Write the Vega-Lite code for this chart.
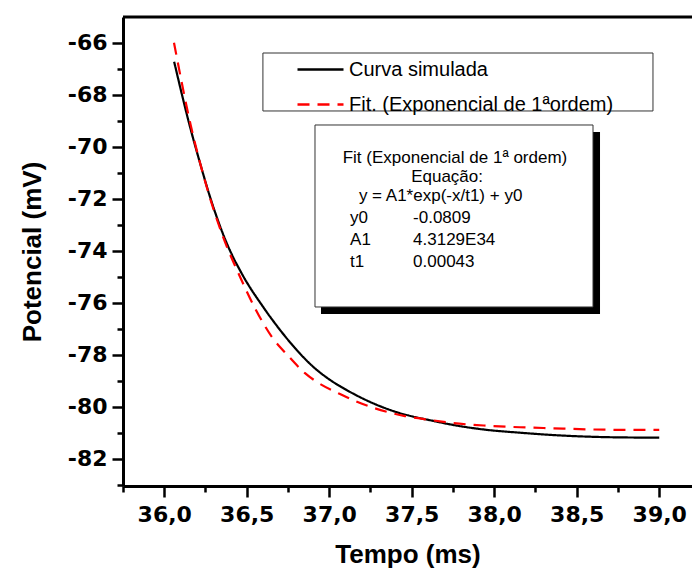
{
  "$schema": "https://vega.github.io/schema/vega-lite/v6.json",
  "width": 569,
  "height": 469,
  "autosize": "none",
  "padding": {"left": 123, "top": 17, "right": 0, "bottom": 88},
  "background": "white",
  "config": {
    "view": {"stroke": null},
    "font": "Liberation Sans",
    "axis": {
      "grid": false,
      "domainColor": "black",
      "domainWidth": 3,
      "tickColor": "black",
      "tickWidth": 2.5,
      "labelColor": "black",
      "labelFont": "DejaVu Sans",
      "labelFontWeight": "bold",
      "labelFontSize": 22,
      "titleFont": "Liberation Sans",
      "titleFontWeight": "bold",
      "titleFontSize": 26,
      "titleColor": "black",
      "labelOverlap": false,
      "labelFlush": false,
      "labelBound": false
    }
  },
  "resolve": {"axis": {"x": "independent", "y": "independent"}},
  "datasets": {
    "curvas": [
      {"serie": "Curva simulada", "tempo": 36.06, "potencial": -66.72},
      {"serie": "Curva simulada", "tempo": 36.156, "potencial": -69.22},
      {"serie": "Curva simulada", "tempo": 36.217, "potencial": -70.62},
      {"serie": "Curva simulada", "tempo": 36.277, "potencial": -71.91},
      {"serie": "Curva simulada", "tempo": 36.378, "potencial": -73.69},
      {"serie": "Curva simulada", "tempo": 36.477, "potencial": -74.95},
      {"serie": "Curva simulada", "tempo": 36.598, "potencial": -76.14},
      {"serie": "Curva simulada", "tempo": 36.702, "potencial": -77.04},
      {"serie": "Curva simulada", "tempo": 36.803, "potencial": -77.81},
      {"serie": "Curva simulada", "tempo": 36.902, "potencial": -78.45},
      {"serie": "Curva simulada", "tempo": 37.005, "potencial": -78.96},
      {"serie": "Curva simulada", "tempo": 37.106, "potencial": -79.35},
      {"serie": "Curva simulada", "tempo": 37.205, "potencial": -79.68},
      {"serie": "Curva simulada", "tempo": 37.308, "potencial": -79.97},
      {"serie": "Curva simulada", "tempo": 37.409, "potencial": -80.2},
      {"serie": "Curva simulada", "tempo": 37.508, "potencial": -80.37},
      {"serie": "Curva simulada", "tempo": 37.611, "potencial": -80.51},
      {"serie": "Curva simulada", "tempo": 37.75, "potencial": -80.69},
      {"serie": "Curva simulada", "tempo": 37.954, "potencial": -80.88},
      {"serie": "Curva simulada", "tempo": 38.156, "potencial": -80.99},
      {"serie": "Curva simulada", "tempo": 38.356, "potencial": -81.08},
      {"serie": "Curva simulada", "tempo": 38.56, "potencial": -81.14},
      {"serie": "Curva simulada", "tempo": 38.762, "potencial": -81.17},
      {"serie": "Curva simulada", "tempo": 39.0, "potencial": -81.18},
      {"serie": "Fit. (Exponencial de 1ªordem)", "tempo": 36.059, "potencial": -65.99},
      {"serie": "Fit. (Exponencial de 1ªordem)", "tempo": 36.16, "potencial": -69.15},
      {"serie": "Fit. (Exponencial de 1ªordem)", "tempo": 36.257, "potencial": -71.53},
      {"serie": "Fit. (Exponencial de 1ªordem)", "tempo": 36.356, "potencial": -73.45},
      {"serie": "Fit. (Exponencial de 1ªordem)", "tempo": 36.459, "potencial": -74.99},
      {"serie": "Fit. (Exponencial de 1ªordem)", "tempo": 36.55, "potencial": -76.2},
      {"serie": "Fit. (Exponencial de 1ªordem)", "tempo": 36.652, "potencial": -77.3},
      {"serie": "Fit. (Exponencial de 1ªordem)", "tempo": 36.752, "potencial": -78.04},
      {"serie": "Fit. (Exponencial de 1ªordem)", "tempo": 36.853, "potencial": -78.7},
      {"serie": "Fit. (Exponencial de 1ªordem)", "tempo": 36.954, "potencial": -79.15},
      {"serie": "Fit. (Exponencial de 1ªordem)", "tempo": 37.055, "potencial": -79.47},
      {"serie": "Fit. (Exponencial de 1ªordem)", "tempo": 37.156, "potencial": -79.77},
      {"serie": "Fit. (Exponencial de 1ªordem)", "tempo": 37.257, "potencial": -80.01},
      {"serie": "Fit. (Exponencial de 1ªordem)", "tempo": 37.358, "potencial": -80.2},
      {"serie": "Fit. (Exponencial de 1ªordem)", "tempo": 37.459, "potencial": -80.35},
      {"serie": "Fit. (Exponencial de 1ªordem)", "tempo": 37.611, "potencial": -80.5},
      {"serie": "Fit. (Exponencial de 1ªordem)", "tempo": 37.75, "potencial": -80.62},
      {"serie": "Fit. (Exponencial de 1ªordem)", "tempo": 37.954, "potencial": -80.72},
      {"serie": "Fit. (Exponencial de 1ªordem)", "tempo": 38.156, "potencial": -80.78},
      {"serie": "Fit. (Exponencial de 1ªordem)", "tempo": 38.356, "potencial": -80.82},
      {"serie": "Fit. (Exponencial de 1ªordem)", "tempo": 38.56, "potencial": -80.86},
      {"serie": "Fit. (Exponencial de 1ªordem)", "tempo": 38.762, "potencial": -80.88},
      {"serie": "Fit. (Exponencial de 1ªordem)", "tempo": 39.0, "potencial": -80.88}
    ],
    "caixas": [
      {"caixa": "sombra", "tempo": 36.95, "tempo2": 38.641, "potencial": -69.423, "potencial2": -76.423},
      {"caixa": "quadro", "tempo": 36.9136, "tempo2": 38.5985, "potencial": -69.154, "potencial2": -76.154},
      {"caixa": "legenda", "tempo": 36.598, "tempo2": 38.962, "potencial": -66.385, "potencial2": -68.615}
    ],
    "centrados": [
      {"texto": "Fit (Exponencial de 1ª ordem)", "tempo": 37.762, "potencial": -70.42},
      {"texto": "Equação:", "tempo": 37.714, "potencial": -71.15},
      {"texto": "y = A1*exp(-x/t1) + y0", "tempo": 37.675, "potencial": -71.89}
    ],
    "tabela": [
      {"nome": "y0", "valor": "-0.0809", "potencial": -72.73},
      {"nome": "A1", "valor": "4.3129E34", "potencial": -73.58},
      {"nome": "t1", "valor": "0.00043", "potencial": -74.42}
    ]
  },
  "layer": [
    {
      "data": {"name": "caixas"},
      "transform": [{"filter": "datum.caixa == 'sombra'"}],
      "mark": {"type": "rect", "fill": "black"},
      "encoding": {
        "x": {"field": "tempo", "type": "quantitative", "scale": {"domain": [35.75, 39.1985], "nice": false, "zero": false},
          "axis": {"orient": "bottom", "title": null, "labels": false, "domain": false, "tickSize": 6,
            "values": [35.75, 36.25, 36.75, 37.25, 37.75, 38.25, 38.75]}},
        "x2": {"field": "tempo2"},
        "y": {"field": "potencial", "type": "quantitative", "scale": {"domain": [-83.04, -65], "nice": false, "zero": false},
          "axis": {"orient": "left", "title": null, "labels": false, "domain": false, "tickSize": 6,
            "values": [-83, -81, -79, -77, -75, -73, -71, -69, -67]}},
        "y2": {"field": "potencial2"}
      }
    },
    {
      "data": {"name": "caixas"},
      "transform": [{"filter": "datum.caixa != 'sombra'"}],
      "mark": {"type": "rect", "fill": "white", "stroke": "#333333", "strokeWidth": 1},
      "encoding": {
        "x": {"field": "tempo", "type": "quantitative", "axis": null, "scale": {"domain": [35.75, 39.1985], "nice": false, "zero": false}},
        "x2": {"field": "tempo2"},
        "y": {"field": "potencial", "type": "quantitative", "axis": null, "scale": {"domain": [-83.04, -65], "nice": false, "zero": false}},
        "y2": {"field": "potencial2"}
      }
    },
    {
      "data": {"name": "centrados"},
      "mark": {"type": "text", "align": "center", "baseline": "middle", "fontSize": 17, "font": "Liberation Sans", "color": "black"},
      "encoding": {
        "x": {"field": "tempo", "type": "quantitative", "axis": null, "scale": {"domain": [35.75, 39.1985], "nice": false, "zero": false}},
        "y": {"field": "potencial", "type": "quantitative", "axis": null, "scale": {"domain": [-83.04, -65], "nice": false, "zero": false}},
        "text": {"field": "texto"}
      }
    },
    {
      "data": {"name": "tabela"},
      "mark": {"type": "text", "align": "left", "baseline": "middle", "fontSize": 17, "font": "Liberation Sans", "color": "black"},
      "encoding": {
        "x": {"datum": 37.126, "type": "quantitative", "axis": null, "scale": {"domain": [35.75, 39.1985], "nice": false, "zero": false}},
        "y": {"field": "potencial", "type": "quantitative", "axis": null, "scale": {"domain": [-83.04, -65], "nice": false, "zero": false}},
        "text": {"field": "nome"}
      }
    },
    {
      "data": {"name": "tabela"},
      "mark": {"type": "text", "align": "left", "baseline": "middle", "fontSize": 17, "font": "Liberation Sans", "color": "black"},
      "encoding": {
        "x": {"datum": 37.508, "type": "quantitative", "axis": null, "scale": {"domain": [35.75, 39.1985], "nice": false, "zero": false}},
        "y": {"field": "potencial", "type": "quantitative", "axis": null, "scale": {"domain": [-83.04, -65], "nice": false, "zero": false}},
        "text": {"field": "valor"}
      }
    },
    {
      "data": {"name": "curvas"},
      "mark": {"type": "line", "strokeWidth": 2.2, "interpolate": "monotone"},
      "encoding": {
        "x": {
          "field": "tempo", "type": "quantitative", "title": "Tempo (ms)",
          "scale": {"domain": [35.75, 39.1985], "nice": false, "zero": false},
          "axis": {
            "orient": "bottom",
            "values": [36.0, 36.5, 37.0, 37.5, 38.0, 38.5, 39.0],
            "labelExpr": "replace(format(datum.value, '.1f'), '.', ',')",
            "tickSize": 11,
            "labelPadding": 7,
            "titlePadding": 16
          }
        },
        "y": {
          "field": "potencial", "type": "quantitative", "title": "Potencial (mV)",
          "scale": {"domain": [-83.04, -65], "nice": false, "zero": false},
          "axis": {
            "orient": "left",
            "values": [-82, -80, -78, -76, -74, -72, -70, -68, -66],
            "labelExpr": "'-' + abs(datum.value)",
            "tickSize": 11,
            "labelPadding": 5,
            "titlePadding": 22
          }
        },
        "color": {
          "field": "serie", "type": "nominal",
          "scale": {"domain": ["Curva simulada", "Fit. (Exponencial de 1ªordem)"], "range": ["black", "#ff0000"]},
          "legend": {
            "orient": "none", "legendX": 173, "legendY": 28, "title": null,
            "symbolType": "stroke", "symbolSize": 2116, "symbolStrokeWidth": 2.5,
            "labelFontSize": 20, "labelFont": "Liberation Sans", "labelColor": "black", "labelLimit": 500,
            "labelOffset": 4, "rowPadding": -15, "padding": 0
          }
        },
        "strokeDash": {
          "field": "serie", "type": "nominal",
          "scale": {"domain": ["Curva simulada", "Fit. (Exponencial de 1ªordem)"], "range": [[1, 0], [12, 8]]},
          "legend": {
            "orient": "none", "legendX": 173, "legendY": 28, "title": null,
            "symbolType": "stroke", "symbolSize": 2116, "symbolStrokeWidth": 2.5,
            "labelFontSize": 20, "labelFont": "Liberation Sans", "labelColor": "black", "labelLimit": 500,
            "labelOffset": 4, "rowPadding": -15, "padding": 0
          }
        }
      }
    },
    {
      "data": {"values": [{"topo": -65}]},
      "mark": {"type": "rule", "color": "black", "strokeWidth": 3},
      "encoding": {
        "y": {"field": "topo", "type": "quantitative", "axis": null, "scale": {"domain": [-83.04, -65], "nice": false, "zero": false}}
      }
    }
  ]
}
